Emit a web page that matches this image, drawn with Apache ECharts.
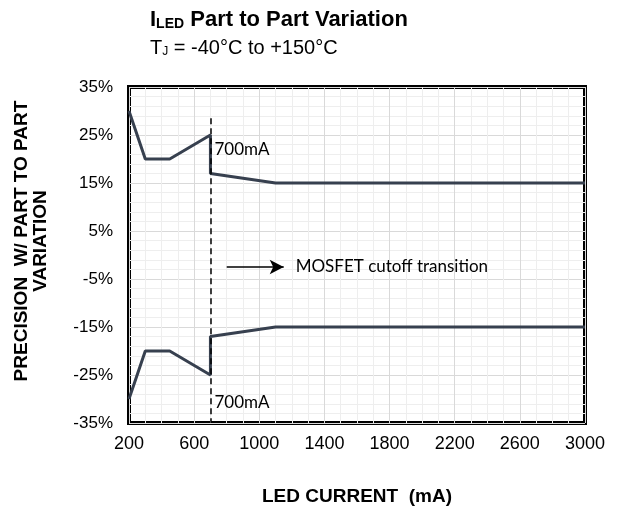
<!DOCTYPE html>
<html>
<head>
<meta charset="utf-8">
<script src="https://cdn.jsdelivr.net/npm/echarts@6/dist/echarts.min.js"></script>
<style>
  html, body { margin: 0; padding: 0; background: #fff; }
</style>
</head>
<body>
<div id="main" style="width: 620px;height:514px;"></div>
<script>
// LED current (mA) and precision (%)
const upperCurrent = [200, 300, 450, 700, 700, 1100, 3000]
const upperPrecision = [30, 20, 20, 25, 17, 15, 15]
const lowerCurrent = [200, 300, 450, 700, 700, 1100, 3000]
const lowerPrecision = [-30, -20, -20, -25, -17, -15, -15]

const cutoffCurrent = 700
const cutoffLineTop = 28.5
const arrowFrom = [800, -2.5]
const arrowTo = [1150, -2.5]
const upperNote = [700, 22]
const lowerNote = [700, -30.7]

const xTicks = { min: 200, max: 3000, step: 400 }
const yTicks = { min: -35, max: 35, step: 10 }

function pairs (xs, ys) {
  return xs.map((x, i) => [x, ys[i]])
}

const lineColor = '#37404f'
const sansFont = '"Liberation Sans", Arial, sans-serif'
const noteFont = 'Lato, "Open Sans", sans-serif'

const option = {
  animation: false,
  title: {
    left: 145,
    top: 4,
    itemGap: 7,
    text: '{b|I}{s|LED}{b| Part to Part Variation}',
    subtext: '{n|T}{ns|J}{n| = -40°C to +150°C}',
    textStyle: {
      rich: {
        b: { fontFamily: sansFont, fontWeight: 'bold', fontSize: 22, color: '#000' },
        s: { fontFamily: sansFont, fontWeight: 'bold', fontSize: 14, color: '#000', padding: [8, 0, 0, 0] }
      }
    },
    subtextStyle: {
      rich: {
        n: { fontFamily: sansFont, fontSize: 20, color: '#000' },
        ns: { fontFamily: sansFont, fontSize: 12, color: '#000', padding: [7, 0, 0, 0] }
      }
    }
  },
  grid: {
    left: 129,
    right: 35,
    top: 87,
    bottom: 91,
    show: true,
    borderColor: '#000',
    borderWidth: 4,
    backgroundColor: 'transparent'
  },
  xAxis: {
    type: 'value',
    min: xTicks.min,
    max: xTicks.max,
    interval: xTicks.step,
    name: 'LED CURRENT  (mA)',
    nameLocation: 'middle',
    nameGap: 64,
    nameTextStyle: { fontFamily: sansFont, fontWeight: 'bold', fontSize: 19, color: '#000' },
    axisLine: { show: false },
    axisTick: { show: false },
    axisLabel: { margin: 12, fontFamily: sansFont, fontSize: 18, color: '#000', formatter: v => String(v) },
    splitLine: { show: true, lineStyle: { color: '#d9d9d9', width: 1 } },
    minorTick: { show: false, splitNumber: 4 },
    minorSplitLine: { show: true, lineStyle: { color: '#eeeeee', width: 1 } }
  },
  yAxis: {
    type: 'value',
    min: yTicks.min,
    max: yTicks.max,
    interval: yTicks.step,
    name: 'PRECISION  W/ PART TO PART\nVARIATION',
    nameLocation: 'middle',
    nameRotate: 90,
    nameGap: 79,
    nameTextStyle: { fontFamily: sansFont, fontWeight: 'bold', fontSize: 19, color: '#000', lineHeight: 19, padding: [0, 0, 0, 28] },
    axisLine: { show: false },
    axisTick: { show: false },
    axisLabel: {
      margin: 16,
      fontFamily: sansFont,
      fontSize: 17,
      color: '#000',
      formatter: v => v + '%'
    },
    splitLine: { show: true, lineStyle: { color: '#d9d9d9', width: 1 } },
    minorTick: { show: false, splitNumber: 5 },
    minorSplitLine: { show: true, lineStyle: { color: '#eeeeee', width: 1 } }
  },
  series: [
    {
      name: 'upper',
      type: 'line',
      showSymbol: false,
      lineStyle: { color: lineColor, width: 3 },
      data: pairs(upperCurrent, upperPrecision),
      z: 3
    },
    {
      name: 'lower',
      type: 'line',
      showSymbol: false,
      lineStyle: { color: lineColor, width: 3 },
      data: pairs(lowerCurrent, lowerPrecision),
      z: 3
    },
    {
      // dashed 700mA marker, arrow and notes
      name: 'notes',
      type: 'line',
      data: [],
      markLine: {
        silent: true,
        animation: false,
        label: { show: false },
        data: [
          [
            { coord: [cutoffCurrent, cutoffLineTop], symbol: 'none', lineStyle: { type: [6, 4], color: '#000', width: 1.5 } },
            { coord: [cutoffCurrent, yTicks.min], symbol: 'none' }
          ],
          [
            { coord: arrowFrom, symbol: 'none', lineStyle: { type: 'solid', color: '#000', width: 1.5 } },
            { coord: arrowTo, symbol: 'arrow', symbolSize: [11, 14] }
          ]
        ]
      },
      markPoint: {
        silent: true,
        symbol: 'circle',
        symbolSize: 0,
        label: {
          show: true,
          position: 'right',
          distance: 4,
          fontFamily: noteFont,
          fontSize: 17,
          color: '#000'
        },
        data: [
          { coord: upperNote, value: '700mA', label: { formatter: '700mA' } },
          { coord: lowerNote, value: '700mA', label: { formatter: '700mA' } },
          { coord: arrowTo, value: 'MOSFET cutoff transition', label: { formatter: 'MOSFET cutoff transition', distance: 12 } }
        ]
      }
    }
  ]
}

const myChart = echarts.init(document.getElementById('main'))
myChart.setOption(option)
</script>
</body>
</html>
